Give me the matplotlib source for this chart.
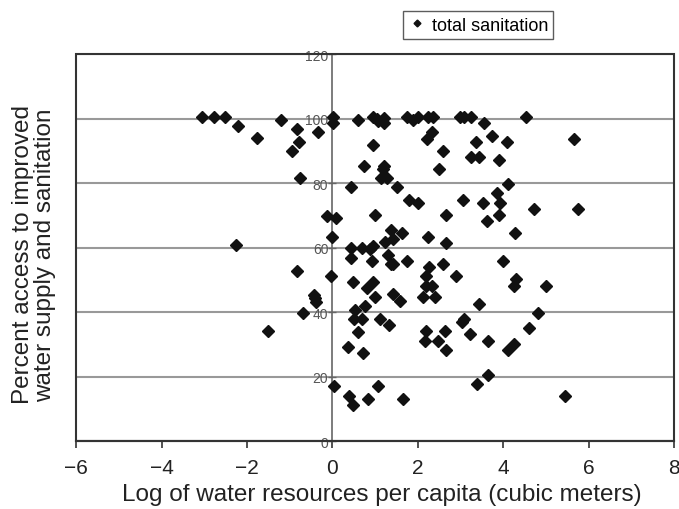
import matplotlib.pyplot as plt
from matplotlib.patches import Rectangle

plt.rcParams['font.family'] = ['Liberation Sans', 'DejaVu Sans']

# log of water resources per capita vs total sanitation access (%)
log_water = [
    -3.06, -2.77, -2.52, -2.21, -1.77, -1.21, -0.83, -0.78, -0.95, -0.34,
    -0.76, -2.26, -0.83, -0.43, -0.41, -0.39, -0.69, -1.51, -0.13, -0.03,
    0.01, 0.01, 0.08, 0.0, 0.04, 0.6,
    0.95, 1.05, 1.07, 1.2, 1.2, 1.74, 1.89, 2.0, 2.24, 2.36, 2.98, 3.07, 3.24, 3.55, 4.53,
    2.33, 2.21, 0.95, 3.36, 3.74, 4.09, 5.66, 2.59, 3.24, 3.43, 3.9, 0.74, 1.2, 1.18,
    2.5, 1.13, 1.28, 4.11, 1.51, 0.43, 3.85, 1.79, 2.0, 3.06, 3.52, 3.92, 4.72, 5.75,
    1.0, 2.66, 3.9, 3.62, 1.37, 1.63, 1.42, 1.23, 2.24, 2.66, 4.27,
    0.43, 0.69, 0.88, 0.95,
    0.43, 0.92, 1.3, 1.37, 1.42, 1.74, 2.26, 2.59, 2.19, 2.89, 3.99, 4.3, 4.25, 5.0,
    0.48, 0.81, 0.95, 1.0, 1.42, 1.58, 2.19, 2.33, 2.12, 2.4,
    0.53, 0.76, 0.5, 0.69, 1.11, 1.32, 0.6, 2.19, 2.63, 3.03, 3.07, 3.43, 4.81,
    3.22, 4.6, 3.64, 2.66, 2.47, 2.17, 4.11, 4.25,
    0.36, 0.71,
    0.39, 0.48, 0.83, 1.07, 1.65, 3.38, 3.64, 5.45,
]
sanitation = [
    100.5, 100.5, 100.5, 97.7, 94, 99.5, 96.7, 92.7, 90, 95.8,
    81.5, 60.8, 52.7, 45.3, 44.3, 43.1, 39.7, 34.1, 69.8, 51.2,
    100.5, 98.6, 69.1, 63.3, 17, 99.5,
    100.5, 100, 99.3, 100.3, 98.6, 100.5, 99.5, 100.5, 100.5, 100.5, 100.5, 100.5, 100.5, 98.6, 100.5,
    95.8, 93.6, 91.8, 92.7, 94.6, 92.7, 93.6, 90, 88, 88, 87.1, 85.3, 85.3, 84.3,
    84.3, 81.5, 81.5, 79.7, 78.8, 78.8, 76.9, 74.7, 73.8, 74.7, 73.8, 73.8, 71.9, 71.9,
    70, 70, 70, 68.2, 65.4, 64.5, 62.6, 61.7, 63.3, 61.4, 64.5,
    59.8, 59.8, 59.5, 60.5,
    56.7, 55.8, 57.7, 54.9, 54.9, 55.8, 54, 54.9, 51.2, 51.2, 55.8, 50.2, 48.1, 48.1,
    49.3, 47.4, 49.3, 44.7, 45.6, 43.4, 48.1, 48.1, 44.7, 44.7,
    40.6, 41.8, 37.8, 37.8, 37.8, 36, 33.8, 34.1, 34.1, 36.9, 37.8, 42.5, 39.7,
    33.3, 35, 31, 28.2, 31, 31, 28.2, 30,
    29.1, 27.3,
    14, 11.2, 13, 17, 13, 17.7, 20.5, 14,
]

x_ticks = [-6, -4, -2, 0, 2, 4, 6, 8]
y_ticks = [0, 20, 40, 60, 80, 100, 120]

fig = plt.figure(figsize=(6.79, 5.10), dpi=100)
ax = fig.add_axes([0.112, 0.133, 0.881, 0.759])

ax.plot(log_water, sanitation, linestyle='none', marker='D', markersize=5.8,
        color='#111111', label='total sanitation', zorder=3)

ax.set_xlim(-6, 8)
ax.set_ylim(0, 120)
ax.set_xticks(x_ticks)
ax.set_yticks(y_ticks)
ax.set_xticklabels([str(t).replace('-', '\u2212') for t in x_ticks])

# horizontal gridlines
ax.yaxis.grid(True, color='#999999', linewidth=1.5)
ax.set_axisbelow(True)

# value axis crosses at x = 0, frame drawn separately
ax.spines['left'].set_position(('data', 0))
ax.spines['left'].set_color('#666666')
ax.spines['left'].set_linewidth(1.2)
for s in ['top', 'right']:
    ax.spines[s].set_visible(False)
ax.spines['bottom'].set_color('#333333')
ax.spines['bottom'].set_linewidth(1.5)
ax.add_patch(Rectangle((0, 0), 1, 1, transform=ax.transAxes, fill=False,
                       edgecolor='#333333', linewidth=1.5, zorder=4, clip_on=False))

ax.tick_params(axis='y', direction='inout', length=6, width=1, color='#666666',
               labelsize=10, labelcolor='#555555', pad=0)
ax.tick_params(axis='x', direction='out', length=5, width=1.2, color='#333333',
               labelsize=15, labelcolor='#222222', pad=7)

ax.set_xlabel('Log of water resources per capita (cubic meters)', fontsize=17.5,
              color='#222222')
ax.xaxis.set_label_coords(0.511, -0.108)
fig.text(0.05, 0.50, 'Percent access to improved\nwater supply and sanitation',
         rotation=90, ha='center', va='center', fontsize=17.5, color='#222222',
         linespacing=1.0)

leg = ax.legend(loc='center', bbox_to_anchor=(0.672, 1.075), frameon=True,
                fancybox=False, fontsize=13, handletextpad=0.3, borderpad=0.3,
                markerscale=0.6, handlelength=1.0)
leg.get_frame().set_edgecolor('#333333')
leg.get_frame().set_linewidth(1.0)

fig.savefig('out.png', dpi=100)
